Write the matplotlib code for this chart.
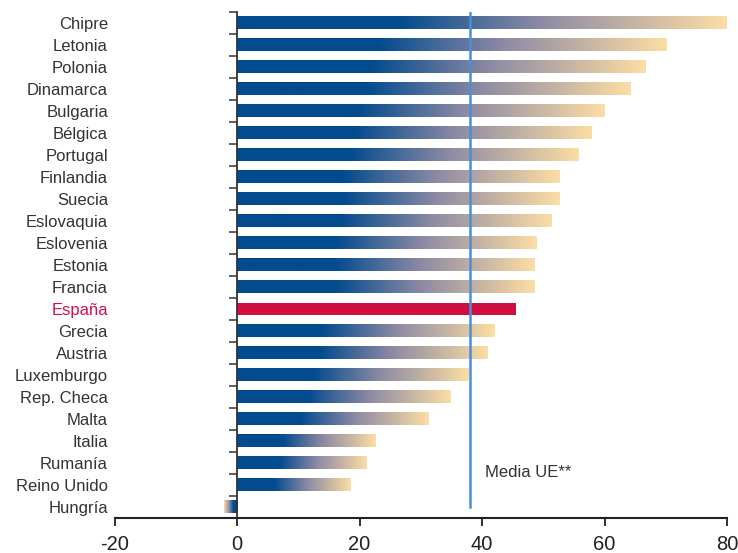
import numpy as np
import matplotlib
matplotlib.use("Agg")
import matplotlib.pyplot as plt
from matplotlib.colors import LinearSegmentedColormap

plt.rcParams['font.family'] = ['Liberation Sans', 'DejaVu Sans']

countries = ["Chipre", "Letonia", "Polonia", "Dinamarca", "Bulgaria", "Bélgica",
             "Portugal", "Finlandia", "Suecia", "Eslovaquia", "Eslovenia", "Estonia",
             "Francia", "España", "Grecia", "Austria", "Luxemburgo", "Rep. Checa",
             "Malta", "Italia", "Rumanía", "Reino Unido", "Hungría"]
values = [80.0, 70.1, 66.7, 64.3, 60.0, 57.9, 55.8, 52.7, 52.7, 51.4, 48.9, 48.6,
          48.6, 45.6, 42.1, 40.9, 37.8, 34.9, 31.2, 22.7, 21.1, 18.5, -2.2]
highlight = "España"
media_ue = 38.0
media_label = "Media UE**"
xticks = [-20, 0, 20, 40, 60, 80]

fig = plt.figure(figsize=(7.38, 5.53), dpi=100)
ax = fig.add_axes([114.7 / 738, 35 / 553, (727 - 114.7) / 738, (518 - 12) / 553])

cmap = LinearSegmentedColormap.from_list(
    "grad", [(0.0, "#034b8f"), (0.33, "#034b8f"), (0.62, "#8d8aa4"), (1.0, "#fcdda3")])
grad = cmap(np.linspace(0, 1, 256))[None, :, :3]

h = 0.55
for i, (c, v) in enumerate(zip(countries, values)):
    if c == highlight:
        ax.barh(i, v, height=h, color="#cf0f41", zorder=2)
    else:
        ax.imshow(grad, extent=[0, v, i + h / 2, i - h / 2], aspect="auto",
                  interpolation="bilinear", zorder=2)

n = len(countries)
ax.plot([media_ue, media_ue], [n - 1, -0.5], color="#4a90d6", lw=1.8, zorder=3)
ax.text(media_ue + 2.4, n - 2.55, media_label, fontsize=12, color="#333333",
        va="center", ha="left")

ax.set_xlim(-20, 80)
ax.set_ylim(n - 0.5, -0.5)

ax.set_yticks(range(n))
ax.set_yticklabels(countries)
ax.set_yticks(np.arange(n) - 0.5, minor=True)
ax.tick_params(axis="y", which="major", length=0, pad=93, labelsize=12,
               labelcolor="#333333")
ax.tick_params(axis="y", which="minor", length=6, width=1.2, color="#444444", direction="out")

ax.set_xticks(xticks)
ax.set_xticklabels([str(t) for t in xticks])
ax.tick_params(axis="x", length=6, width=1.3, color="#222222", pad=6,
               labelsize=14.5, labelcolor="#222222")

for s in ["top", "right"]:
    ax.spines[s].set_visible(False)
ax.spines["left"].set_position(("data", 0))
ax.spines["left"].set_color("#333333")
ax.spines["left"].set_linewidth(1.3)
ax.spines["bottom"].set_color("#222222")
ax.spines["bottom"].set_linewidth(1.5)

fig.canvas.draw()
for tick in ax.yaxis.get_major_ticks():
    if tick.label1.get_text() == highlight:
        tick.label1.set_color("#d0104a")

fig.savefig("out.png", dpi=100)
